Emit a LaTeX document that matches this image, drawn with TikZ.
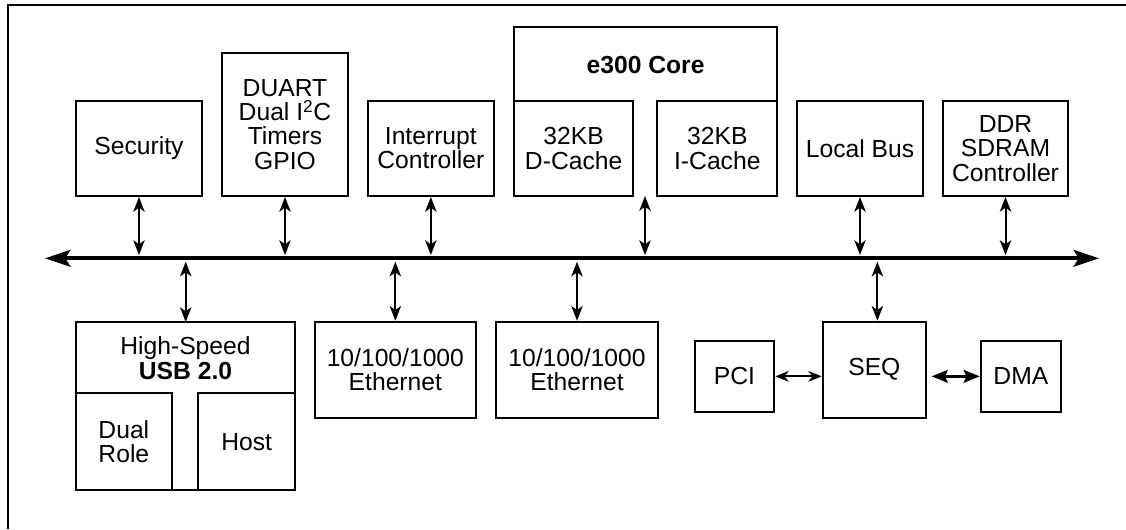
\documentclass[tikz,border=0pt]{standalone}
\usepackage{fontspec}
\setmainfont{Liberation Sans}
\usetikzlibrary{arrows.meta}
\newcommand\bx[6]{\node[box, minimum width={(#4-#2)*0.75pt}, minimum height={(#5-#3)*0.75pt}] (#1) at ({(#2+#4)/2},{(#3+#5)/2}) {#6};}
\tikzset{
  lbl/.style={font=\fontsize{18.5}{18.3}\selectfont},
  box/.style={draw, line width=1.5pt, inner sep=0pt, align=center, lbl},
  txt/.style={inner sep=0pt, align=center, lbl},
  edge/.style={line width=1.5pt},
  framel/.style={line width=2pt},
  darr/.style={line width=1.5pt, {Stealth[length=11pt,width=8.5pt,inset=3pt]}-{Stealth[length=11pt,width=8.5pt,inset=3pt]}},
  harr/.style={line width=1.5pt, {Stealth[length=10pt,width=8pt,inset=3pt]}-{Stealth[length=10pt,width=8pt,inset=3pt]}},
  harrb/.style={line width=2.2pt, {Stealth[length=12pt,width=9.5pt,inset=2pt]}-{Stealth[length=12pt,width=9.5pt,inset=2pt]}},
  busarr/.style={line width=3pt, {Stealth[length=19pt,width=12.5pt,inset=3.75pt]}-{Stealth[length=19pt,width=12.5pt,inset=3.75pt]}},
}
\begin{document}
\begin{tikzpicture}[x=0.75pt,y=-0.75pt]
\useasboundingbox (0,0) rectangle (1126,529);
% outer frame
\draw[framel] (8,529) -- (8,5) -- (1126,5);
% top row
\bx{sec}{76}{100.7}{202}{196}{Security}
\bx{duart}{222}{52.7}{348}{196}{DUART\\Dual I\textsuperscript{2}C\\Timers\\GPIO}
\bx{intc}{367.7}{100.7}{494}{196}{Interrupt\\Controller}
\bx{dc}{514}{100.7}{633.3}{196}{32KB\\D-Cache}
\bx{ic}{657.3}{100.7}{777.3}{196}{32KB\\I-Cache}
\draw[edge] (514,100.7) -- (514,27.3) -- (777.3,27.3) -- (777.3,100.7);
\node[txt, font=\fontsize{18.5}{18.3}\selectfont\bfseries] (core) at (645.6,65) {e300 Core};
\coordinate (corein) at (645,196);
\bx{lbus}{796.7}{100.7}{923.3}{196}{Local Bus}
\bx{ddr}{942.7}{100.7}{1068.3}{196}{DDR\\SDRAM\\Controller}
% bus
\coordinate (busL) at (45,258.3);
\coordinate (busR) at (1099,258.3);
\draw[busarr] (busL) -- (busR);
\coordinate (bt) at (0,255);
\coordinate (bb) at (0,261.7);
\foreach \n in {sec,duart,intc,lbus,ddr}
  \draw[darr] (\n.south) -- (\n.south |- bt);
\draw[darr] (corein) -- (corein |- bt);
% bottom row: USB
\bx{dual}{76}{393.3}{171.7}{490}{Dual\\Role}
\bx{host}{198.3}{393.3}{295}{490}{Host}
\draw[edge] (76,393.3) -- (76,322) -- (295,322) -- (295,393.3);
\draw[edge] (171.7,490) -- (198.3,490);
\node[txt] (usb) at (185.5,358) {High-Speed\\\textbf{USB 2.0}};
\coordinate (usbin) at (185.7,322);
\draw[darr] (usbin |- bb) -- (usbin);
% ethernet
\bx{eth1}{314.7}{321.7}{476}{417.7}{10/100/1000\\Ethernet}
\bx{eth2}{495.7}{321.7}{658.3}{417.7}{10/100/1000\\Ethernet}
\foreach \n in {eth1,eth2}
  \draw[darr] (\n.north |- bb) -- (\n.north);
% PCI / SEQ / DMA
\bx{pci}{694.7}{340.7}{774.3}{412}{PCI}
\bx{seq}{822.7}{321.7}{926}{417.7}{SEQ}
\bx{dma}{980.7}{340.7}{1061}{412}{DMA}
\coordinate (seqin) at ([xshift=2.25pt]seq.north);
\draw[darr] (seqin |- bb) -- (seqin);
\draw[harr] (pci.east) -- (pci.east -| seq.west);
\draw[harrb, shorten >=3.5pt] (dma.west) -- (dma.west -| seq.east);
\end{tikzpicture}
\end{document}
